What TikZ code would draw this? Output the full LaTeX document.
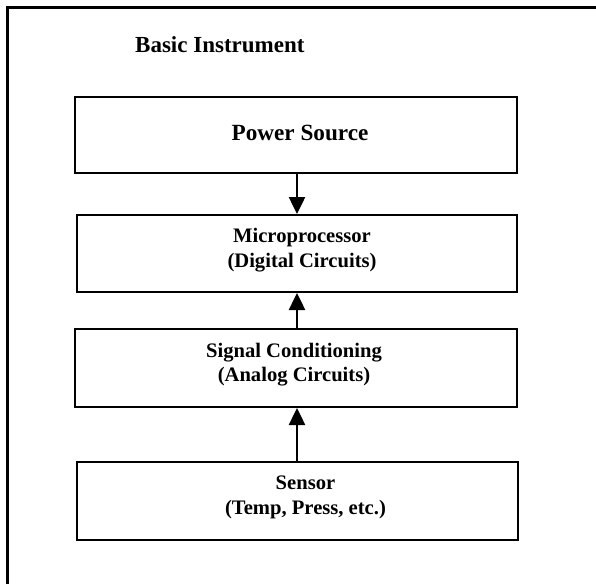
\documentclass[tikz,border=0pt]{standalone}
\usepackage{fontspec}
\setmainfont{Liberation Serif}
\usetikzlibrary{arrows.meta}
\begin{document}
\begin{tikzpicture}[x=1pt,y=-1pt,
  box/.style={draw=black,line width=2pt,rectangle,inner sep=0pt},
  boxtext/.style={align=center,inner sep=0pt,yshift=3.5pt,
    font=\bfseries\fontsize{20.6}{24.5}\selectfont},
  conn/.style={line width=2.5pt,-{Triangle[width=16pt,length=17pt]}}]
\useasboundingbox (0,0) rectangle (596,584);
\draw[line width=3pt] (7.5,584) -- (7.5,7.5) -- (596,7.5);
\node[anchor=base west,inner sep=0pt,font=\bfseries\fontsize{23}{27}\selectfont] (title) at (135,52) {Basic Instrument};
\node[box,minimum width=442pt,minimum height=76pt,
  label={[boxtext,yshift=-1.5pt,xshift=4pt,font=\bfseries\fontsize{23.2}{27}\selectfont]center:Power Source}] (power) at (296,135) {};
\node[box,minimum width=440pt,minimum height=77pt,
  label={[boxtext,xshift=5pt]center:Microprocessor\\(Digital Circuits)}] (micro) at (297,253.5) {};
\node[box,minimum width=442pt,minimum height=78pt,
  label={[boxtext,xshift=-2pt]center:Signal Conditioning\\(Analog Circuits)}] (signal) at (296,368) {};
\node[box,minimum width=441pt,minimum height=78pt,
  label={[boxtext,xshift=8pt]center:Sensor\\(Temp, Press, etc.)}] (sensor) at (297.5,501) {};
\draw[conn] (power.south -| 297,0) -- (micro.north -| 297,0);
\draw[conn] (signal.north -| 297,0) -- (micro.south -| 297,0);
\draw[conn] (sensor.north -| 297,0) -- (signal.south -| 297,0);
\end{tikzpicture}
\end{document}
